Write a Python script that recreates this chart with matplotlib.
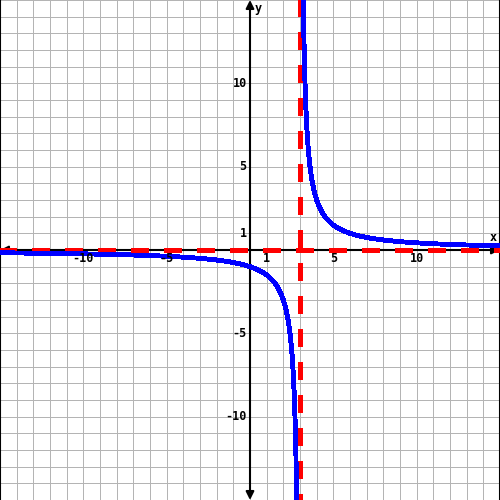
import numpy as np
import matplotlib
matplotlib.use("Agg")
import matplotlib.pyplot as plt

# Function y = k / (x - h)
numerator = 3.0
vertical_asymptote = 3.0
horizontal_asymptote = 0.0

x_range = [-15, 15]
y_range = [-15, 15]
x_tick_values = [-10, -5, 1, 5, 10]
x_tick_labels = ["-10", "-5", "1", "5", "10"]
y_tick_values = [10, 5, 1, -5, -10]
y_tick_labels = ["10", "5", "1", "-5", "-10"]

fig = plt.figure(figsize=(5, 5), dpi=100)
ax = fig.add_axes([0, 0, 1, 1])
ax.set_xlim(*x_range)
ax.set_ylim(*y_range)

# grid
for g in range(x_range[0], x_range[1] + 1):
    ax.axvline(g, color="#b4b4b4", lw=0.7, zorder=0, antialiased=False)
for g in range(y_range[0], y_range[1] + 1):
    ax.axhline(g, color="#b4b4b4", lw=0.7, zorder=0, antialiased=False)

for s in ["top", "bottom"]:
    ax.spines[s].set_visible(False)
for s in ["left", "right"]:
    ax.spines[s].set_color("black")
    ax.spines[s].set_linewidth(1.5)
ax.set_xticks([])
ax.set_yticks([])

# axes with arrows
ax.annotate("", xy=(15, 0), xytext=(-15, 0),
            arrowprops=dict(arrowstyle="<|-|>", lw=1.5, color="black",
                            mutation_scale=12, shrinkA=0, shrinkB=0), zorder=2)
ax.annotate("", xy=(0, 15), xytext=(0, -15),
            arrowprops=dict(arrowstyle="<|-|>", lw=1.5, color="black",
                            mutation_scale=12, shrinkA=0, shrinkB=0), zorder=2)

# asymptotes
dash = (0, (3.5, 3.167))
ax.plot([-15.5, 15.5], [horizontal_asymptote] * 2, color="#ff0000", lw=3.6,
        linestyle=dash, dash_capstyle="butt", zorder=3, antialiased=False)
ax.plot([vertical_asymptote] * 2, [15.5, -15.5], color="#ff0000", lw=3.6,
        linestyle=dash, dash_capstyle="butt", zorder=3, antialiased=False)

# curve
x_left = np.linspace(x_range[0], vertical_asymptote - 0.2, 800)
x_right = np.linspace(vertical_asymptote + 0.2, x_range[1], 800)
for xs in (x_left, x_right):
    ys = numerator / (xs - vertical_asymptote) + horizontal_asymptote
    ax.plot(xs, ys, color="#0000ff", lw=2.8, zorder=4, antialiased=False)

font = dict(family="DejaVu Sans Mono", weight="bold", size=8.5)
for v, t in zip(x_tick_values, x_tick_labels):
    ax.text(v, -0.5, t, ha="center", va="center", zorder=5, **font)
for v, t in zip(y_tick_values, y_tick_labels):
    ax.text(-0.2, v, t, ha="right", va="center", zorder=5, **font)
ax.text(14.6, 0.75, "x", ha="center", va="center", zorder=5, **font)
ax.text(0.5, 14.5, "y", ha="center", va="center", zorder=5, **font)

fig.savefig("out.png", dpi=100)
